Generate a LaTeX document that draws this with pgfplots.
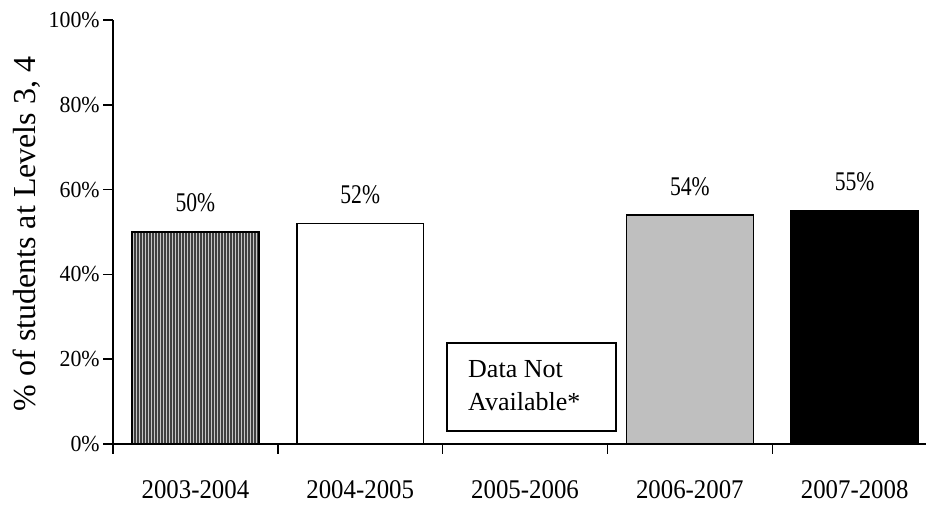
\documentclass[border=0pt]{standalone}
\usepackage{fontspec}
\setmainfont{Liberation Serif}
\usepackage{pgfplots}
\pgfplotsset{compat=1.18}
\usetikzlibrary{patterns.meta}
\begin{document}
\begin{tikzpicture}[x=1bp,y=1bp]
\useasboundingbox (0,0) rectangle (926,505);
\begin{axis}[
  at={(113bp,61bp)}, anchor=south west,
  scale only axis, width=813bp, height=424bp,
  xmin=-0.5, xmax=4.433, ymin=0, ymax=100,
  axis lines=left, axis line style={-, line width=1.5bp, black},
  tick style={line width=1.5bp, black},
  tick align=outside, major tick length=10bp,
  /pgf/number format/assume math mode=true,
  ytick={0,20,40,60,80,100},
  yticklabel={\pgfmathprintnumber{\tick}\%},
  yticklabel style={font=\fontsize{23bp}{26bp}\selectfont, xscale=0.95},
  xtick={-0.5,0.5,1.5,2.5,3.5}, xticklabels={},
  extra x ticks={0,1,2,3,4},
  extra x tick labels={2003-2004,2004-2005,2005-2006,2006-2007,2007-2008},
  extra x tick style={major tick length=0pt, tick style={draw=none},
    xticklabel style={font=\fontsize{27bp}{30bp}\selectfont, xscale=0.92, anchor=base, inner sep=0pt, yshift=-55bp}},
  bar width=0.77, ybar, bar shift=0pt,
  nodes near coords={\pgfmathprintnumber{\pgfplotspointmeta}\%},
  every node near coord/.append style={font=\fontsize{27bp}{30bp}\selectfont, xscale=0.8, anchor=base, inner sep=0pt, yshift=20bp, text=black},
  clip=false,
]
\addplot[draw=black, line width=1.5bp, fill=gray!45, postaction={pattern={Lines[angle=90, distance=3bp, line width=1.1bp]}, pattern color=black!75}] coordinates {(0,50)};
\addplot[draw=black, line width=1.5bp, fill=white] coordinates {(1,52)};
\addplot[draw=black, line width=1.5bp, fill=black!25] coordinates {(3,54)};
\addplot[draw=black, line width=1.5bp, fill=black] coordinates {(4,55)};
\draw[line width=1.5bp] (axis cs:1.527,3.07) rectangle (axis cs:2.552,23.8);
\node[anchor=base west, inner sep=0pt, font=\fontsize{26bp}{30bp}\selectfont] at (axis cs:1.654,15.57) {Data Not};
\node[anchor=base west, inner sep=0pt, font=\fontsize{26bp}{30bp}\selectfont] at (axis cs:1.654,8.0) {Available*};
\end{axis}
\node[rotate=90, anchor=base, inner sep=0pt, font=\fontsize{32bp}{36bp}\selectfont] at (35,271) {\% of students at Levels 3, 4};
\end{tikzpicture}
\end{document}
